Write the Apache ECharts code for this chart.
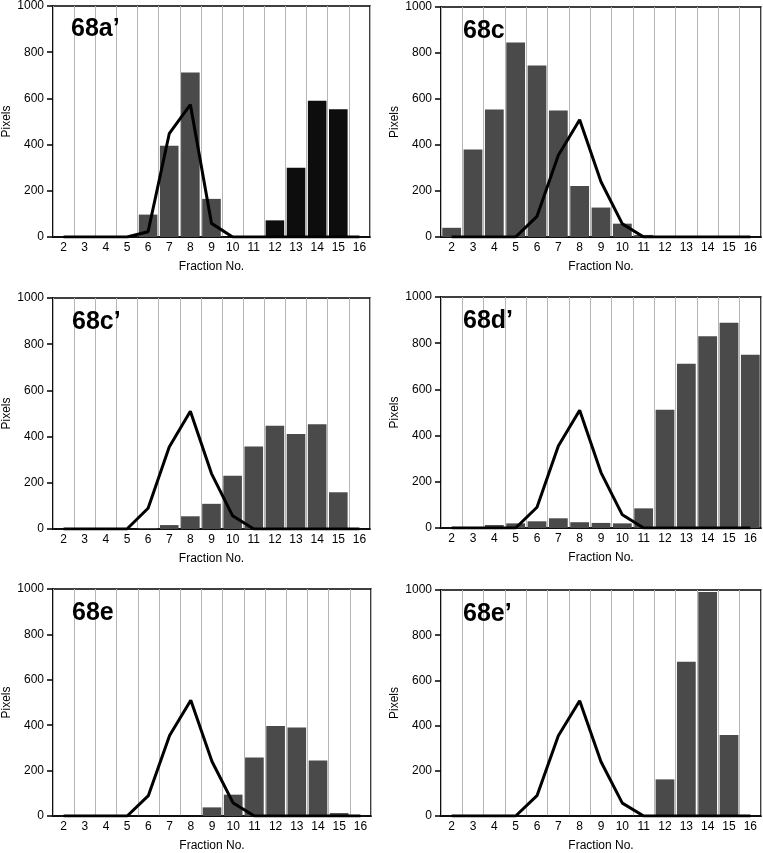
<!DOCTYPE html>
<html>
<head>
<meta charset="utf-8">
<style>
html,body{margin:0;padding:0;background:#fff;}
#c{width:763px;height:853px;}
</style>
<script src="https://cdn.jsdelivr.net/npm/echarts@6/dist/echarts.min.js"></script>
</head>
<body>
<div id="c"></div>
<script>
// ---- data ----
var categories = ['2','3','4','5','6','7','8','9','10','11','12','13','14','15','16'];
var yTicks = [0, 200, 400, 600, 800, 1000];
var panelLabels = ['68a\u2019', '68c', '68c\u2019', '68d\u2019', '68e', '68e\u2019'];

// reference profile (line) used in panels 68c .. 68e'
var refLine = [0, 0, 0, 0, 90, 355, 510, 240, 57, 0, 0, 0, 0, 0, 0];
// line in panel 68a'
var lineA = [0, 0, 0, 0, 23, 447, 573, 59, 0, 0, 0, 0, 0, 0, 0];

// 68a' : gray bars (fractions 2-11) and black bars (fractions 12-16)
var barsA_gray  = [0, 0, 0, 0, 97, 395, 712, 165, 0, 0, '-', '-', '-', '-', '-'];
var barsA_black = ['-', '-', '-', '-', '-', '-', '-', '-', '-', '-', 72, 300, 590, 553, 0];
var barsC   = [40, 380, 554, 846, 746, 550, 222, 128, 58, 9, 0, 0, 0, 0, 0];
var barsCp  = [0, 0, 0, 0, 4, 17, 55, 109, 230, 357, 447, 411, 453, 159, 0];
var barsDp  = [0, 3, 13, 20, 29, 42, 25, 22, 20, 85, 512, 711, 830, 888, 750];
var barsE   = [0, 0, 0, 0, 0, 0, 0, 38, 94, 258, 396, 390, 245, 13, 0];
var barsEp  = [0, 0, 0, 0, 0, 0, 0, 0, 0, 0, 162, 683, 991, 358, 0];

// ---- layout ----
var grids = [
  {left: 49,  top: 5,   width: 321, height: 232},
  {left: 441, top: 7,   width: 320, height: 230},
  {left: 50,  top: 298, width: 320, height: 231},
  {left: 441, top: 297, width: 320, height: 231},
  {left: 50,  top: 589, width: 321, height: 230},
  {left: 441, top: 590, width: 320, height: 230}
];
var FONT = "'Liberation Sans', Arial, Helvetica, sans-serif";
var GRAY = '#4a4a4a';
var BLACK = '#0d0d0d';

var option = {
  backgroundColor: '#fff',
  animation: false,
  textStyle: {fontFamily: FONT},
  title: [],
  grid: [],
  xAxis: [],
  yAxis: [],
  series: []
};

grids.forEach(function (g, i) {
  option.grid.push({
    left: g.left, top: g.top, width: g.width, height: g.height,
    show: true, borderColor: '#000', borderWidth: 1.5, backgroundColor: 'transparent'
  });
  option.title.push({
    text: panelLabels[i],
    left: g.left + 17, top: g.top + 7,
    textStyle: {fontFamily: FONT, fontSize: 25, fontWeight: 'bold', color: '#000'}
  });
  option.xAxis.push({
    type: 'category', gridIndex: i, data: categories, boundaryGap: true,
    name: 'Fraction No.', nameLocation: 'middle', nameGap: 24,
    nameTextStyle: {fontFamily: FONT, fontSize: 12, color: '#000'},
    axisLine: {lineStyle: {color: '#000', width: 1.5}},
    axisTick: {show: false},
    axisLabel: {fontFamily: FONT, fontSize: 12, color: '#000', margin: 5, interval: 0},
    splitLine: {show: true, interval: 0, lineStyle: {color: '#b5b5b5', width: 1}},
    z: 1
  });
  option.yAxis.push({
    type: 'value', gridIndex: i, min: yTicks[0], max: yTicks[yTicks.length - 1], interval: 200,
    name: 'Pixels', nameLocation: 'middle', nameGap: 40,
    nameTextStyle: {fontFamily: FONT, fontSize: 12, color: '#000'},
    axisLine: {show: true, lineStyle: {color: '#000', width: 1.5}},
    axisTick: {show: true, inside: false, length: 6, lineStyle: {color: '#000', width: 1.5}},
    axisLabel: {fontFamily: FONT, fontSize: 12, color: '#000', margin: 9,
      formatter: function (v) { return String(v); }},
    splitLine: {show: false}
  });
});

function barSeries(idx, data, color) {
  return {
    type: 'bar', xAxisIndex: idx, yAxisIndex: idx, data: data,
    barCategoryGap: '12%', barGap: '-100%',
    itemStyle: {color: color}, z: 2
  };
}
function lineSeries(idx, data) {
  return {
    type: 'line', xAxisIndex: idx, yAxisIndex: idx, data: data,
    symbol: 'none', lineStyle: {color: '#000', width: 3}, z: 3
  };
}

option.series.push(barSeries(0, barsA_gray, GRAY));
option.series.push(barSeries(0, barsA_black, BLACK));
option.series.push(lineSeries(0, lineA));
option.series.push(barSeries(1, barsC, GRAY));
option.series.push(lineSeries(1, refLine));
option.series.push(barSeries(2, barsCp, GRAY));
option.series.push(lineSeries(2, refLine));
option.series.push(barSeries(3, barsDp, GRAY));
option.series.push(lineSeries(3, refLine));
option.series.push(barSeries(4, barsE, GRAY));
option.series.push(lineSeries(4, refLine));
option.series.push(barSeries(5, barsEp, GRAY));
option.series.push(lineSeries(5, refLine));

var chart = echarts.init(document.getElementById('c'), null, {renderer: 'canvas'});
chart.setOption(option);
</script>
</body>
</html>
